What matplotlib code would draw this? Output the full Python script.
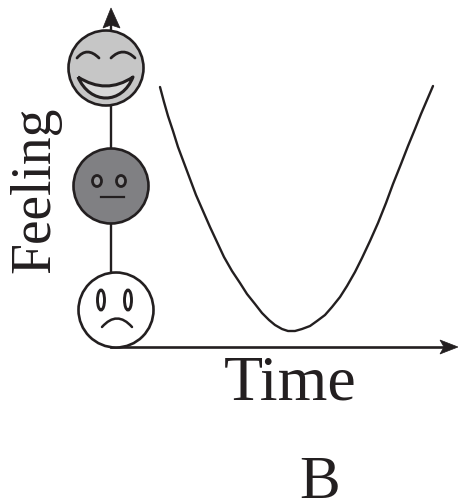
import matplotlib
matplotlib.use("Agg")
import matplotlib.pyplot as plt
from matplotlib.patches import Circle, Ellipse, PathPatch, Polygon
from matplotlib.path import Path

W, H = 458, 504
curve_x = [160, 164, 168, 173, 178, 184, 190, 196, 203, 210, 217, 224, 232, 240, 247, 255, 262, 269, 275, 282, 288, 295, 302, 310, 317, 325, 332, 340, 347, 355, 362, 370, 378, 386, 393, 401, 408, 415, 421, 427, 433]
curve_y = [87, 102, 116, 131, 147, 163, 179, 195, 211, 227, 242, 257, 271, 283, 294, 304, 313, 320, 325, 329, 331, 331, 329, 326, 321, 315, 307, 297, 286, 272, 258, 241, 223, 203, 184, 164, 146, 129, 114, 100, 86]
x_label = "Time"
y_label = "Feeling"
panel_label = "B"

plt.rcParams['font.family'] = ['Liberation Serif', 'DejaVu Serif']
fig = plt.figure(figsize=(W/100, H/100), dpi=100)
ax = fig.add_axes([0, 0, 1, 1])
ax.set_xlim(0, W); ax.set_ylim(H, 0); ax.axis('off')
ink = '#231f20'

ax.plot(curve_x, curve_y, color=ink, lw=1.7, solid_capstyle='round', solid_joinstyle='round')

# axes lines and arrow heads
ax.plot([111, 445], [347, 347], color=ink, lw=1.9, zorder=2)
ax.add_patch(Polygon([(458, 347), (440, 340), (444, 347), (440, 354)], closed=True, fc=ink, ec=ink, lw=0.5, zorder=2))
ax.plot([111, 111], [347, 24], color=ink, lw=1.7, zorder=2)
ax.add_patch(Polygon([(111, 8), (103, 28), (111, 25), (120, 28)], closed=True, fc=ink, ec=ink, lw=0.5, zorder=2))

def face(cx, cy, r, fc):
    ax.add_patch(Circle((cx, cy), r, fc=fc, ec=ink, lw=1.9, zorder=3))

def curve(p0, c, p1, lw=1.6, z=4):
    ax.add_patch(PathPatch(Path([p0, c, p1], [Path.MOVETO, Path.CURVE3, Path.CURVE3]),
                           fc='none', ec=ink, lw=lw, zorder=z, capstyle='round'))

# happy face
face(106, 68, 37.5, '#c6c6c6')
curve((77, 58), (87, 46), (99, 58), lw=2.0)
curve((111, 58), (123, 46), (135, 58), lw=2.0)
mouth = Path([(78, 77), (106, 95), (133, 77), (122, 105), (90, 105), (78, 77)],
             [Path.MOVETO, Path.CURVE3, Path.CURVE3, Path.CURVE4, Path.CURVE4, Path.CURVE4])
ax.add_patch(PathPatch(mouth, fc='#d8d8d8', ec=ink, lw=2.2, zorder=4, joinstyle='round'))

# neutral face
face(111, 186, 37.5, '#808083')
for ex in (97, 121):
    ax.add_patch(Ellipse((ex, 181), 9, 11, fc='#98989a', ec=ink, lw=2.0, zorder=4))
ax.plot([101, 124], [197, 197], color=ink, lw=1.6, zorder=4)

# sad face
face(116, 310, 37.5, 'white')
for ex in (101, 128):
    ax.add_patch(Ellipse((ex, 300), 7, 20, fc='white', ec=ink, lw=2.1, zorder=4))
curve((102, 327), (117, 310), (132, 327), lw=1.8)

ax.text(290, 399, x_label, fontsize=46, color=ink, ha='center', va='baseline')
ax.text(61, 190, y_label, fontsize=40, color=ink, rotation=90, ha='right', va='center', rotation_mode='default')
ax.text(320, 498, panel_label, fontsize=44, color=ink, ha='center', va='baseline')
fig.savefig('out.png', dpi=100)
